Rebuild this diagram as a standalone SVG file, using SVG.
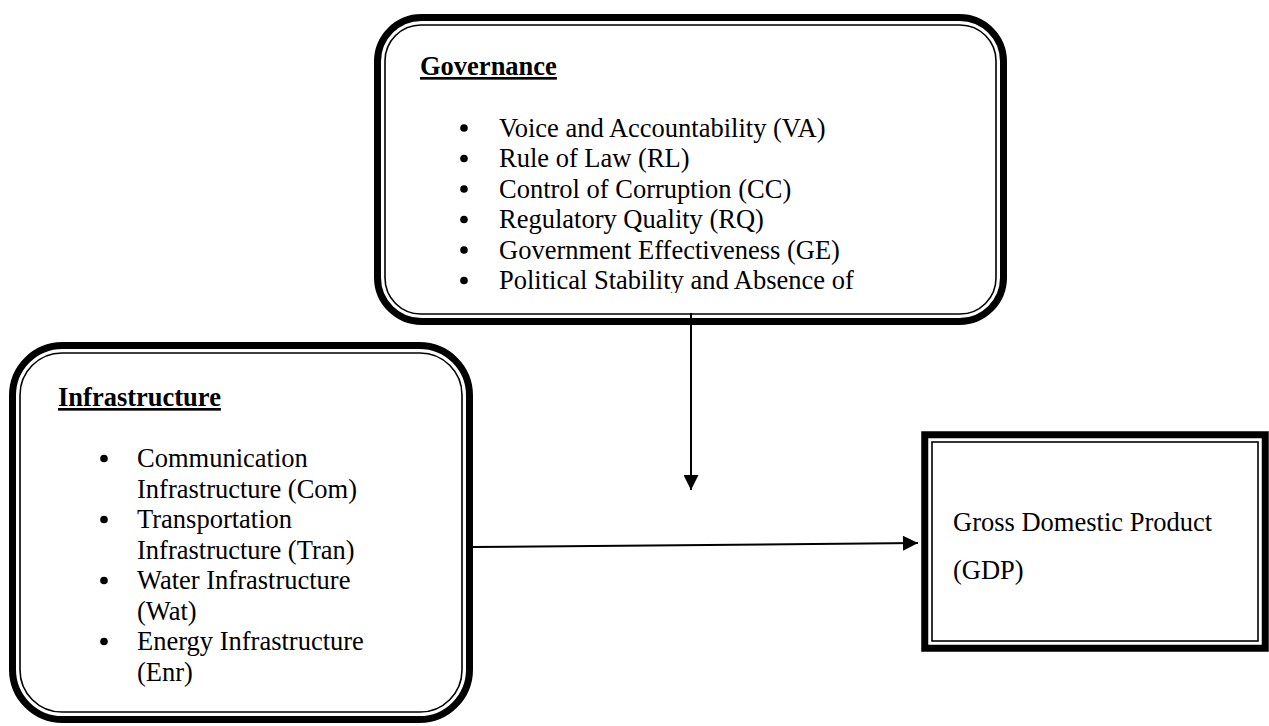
<svg xmlns="http://www.w3.org/2000/svg" width="1269" height="726" viewBox="0 0 1269 726">
<style>
.thick{fill:none;stroke:#000;stroke-width:7}
.thin{fill:none;stroke:#000;stroke-width:1.6}
.t{font-family:"Liberation Serif","Times New Roman",serif;font-size:26.5px;fill:#000}
.h{font-family:"Liberation Serif","Times New Roman",serif;font-size:26.5px;font-weight:bold;text-decoration:underline;fill:#000}
.edge{stroke:#000;stroke-width:2;fill:none}
</style>
<defs>
<marker id="ah" viewBox="0 0 10 10" refX="10" refY="5" markerWidth="19" markerHeight="15" markerUnits="userSpaceOnUse" orient="auto"><path d="M0,0 L10,5 L0,10 z" fill="#000"/></marker>
<clipPath id="gclip"><rect x="380" y="20" width="620" height="273"/></clipPath>
</defs>
<rect width="1269" height="726" fill="#fff"/>
<g id="governance">
<rect class="thick" x="377.5" y="17.5" width="626" height="304" rx="44"/>
<rect class="thin" x="385" y="25" width="611" height="289" rx="36"/>
<g clip-path="url(#gclip)">
<text class="h" x="420" y="75">Governance</text>
<g class="t">
<circle cx="464" cy="128" r="3.8"/><text x="499" y="136.5">Voice and Accountability (VA)</text>
<circle cx="464" cy="158.5" r="3.8"/><text x="499" y="167">Rule of Law (RL)</text>
<circle cx="464" cy="189" r="3.8"/><text x="499" y="197.5">Control of Corruption (CC)</text>
<circle cx="464" cy="219.5" r="3.8"/><text x="499" y="228">Regulatory Quality (RQ)</text>
<circle cx="464" cy="250" r="3.8"/><text x="499" y="258.5">Government Effectiveness (GE)</text>
<circle cx="464" cy="280.5" r="3.8"/><text x="499" y="289">Political Stability and Absence of</text>
</g>
</g>
</g>
<g id="infrastructure">
<rect class="thick" x="12.5" y="345.5" width="457" height="374" rx="50"/>
<rect class="thin" x="20" y="353" width="442" height="359" rx="42"/>
<text class="h" x="58" y="406">Infrastructure</text>
<g class="t">
<circle cx="104" cy="458.5" r="3.8"/><text x="137" y="467">Communication</text>
<text x="137" y="497.5">Infrastructure (Com)</text>
<circle cx="104" cy="519.5" r="3.8"/><text x="137" y="528">Transportation</text>
<text x="137" y="558.5">Infrastructure (Tran)</text>
<circle cx="104" cy="580.5" r="3.8"/><text x="137" y="589">Water Infrastructure</text>
<text x="137" y="619.5">(Wat)</text>
<circle cx="104" cy="641.5" r="3.8"/><text x="137" y="650">Energy Infrastructure</text>
<text x="137" y="680.5">(Enr)</text>
</g>
</g>
<g id="gdp">
<rect class="thick" x="924.75" y="434.75" width="340.5" height="213.5" stroke-width="7.5"/>
<rect class="thin" x="932" y="442" width="326" height="199"/>
<text class="t" x="953" y="531">Gross Domestic Product</text>
<text class="t" x="953" y="579">(GDP)</text>
</g>
<g id="connectors">
<line class="edge" x1="691" y1="313" x2="691" y2="490" marker-end="url(#ah)"/>
<line class="edge" x1="473" y1="547" x2="918" y2="543" marker-end="url(#ah)"/>
</g>
</svg>
